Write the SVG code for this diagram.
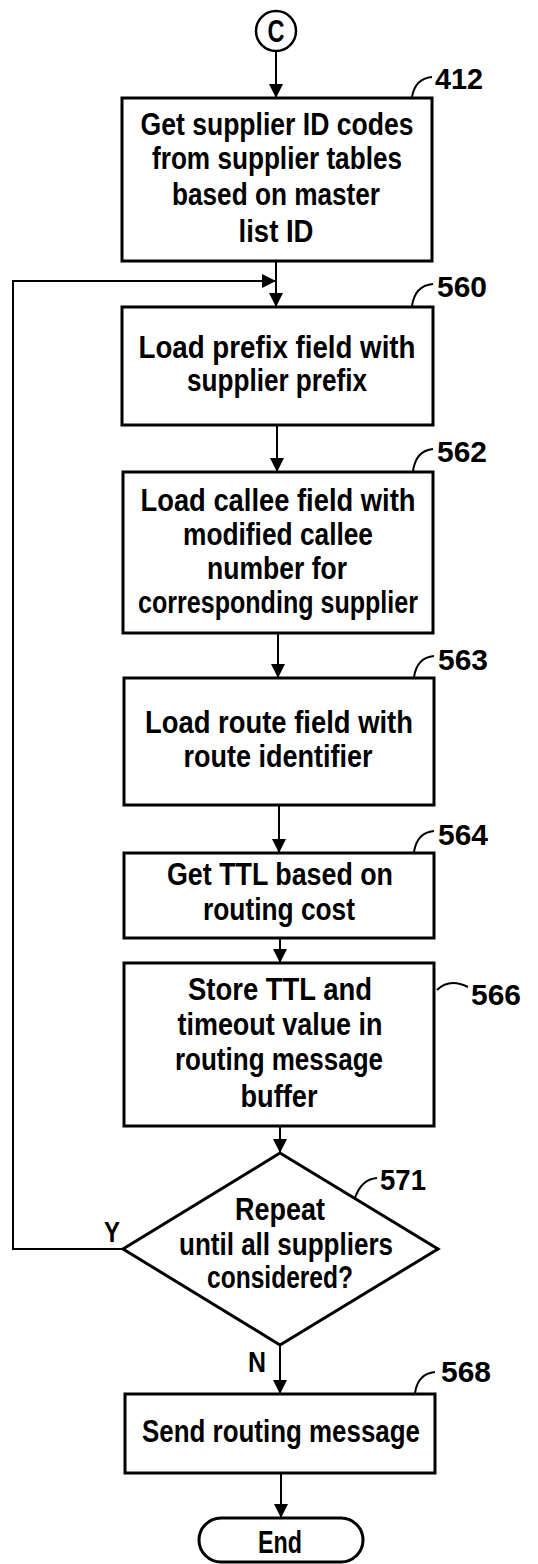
<svg xmlns="http://www.w3.org/2000/svg" width="538" height="1564" viewBox="0 0 538 1564">
<style>
.box{fill:#fff;stroke:#000;stroke-width:3}
.con{fill:none;stroke:#000;stroke-width:2}
.lead{fill:none;stroke:#000;stroke-width:2}
.t{font-family:"Liberation Sans",Arial,sans-serif;font-weight:bold;font-size:31px;text-anchor:middle;fill:#000}
.lbl{font-family:"Liberation Sans",Arial,sans-serif;font-weight:bold;font-size:29px;fill:#000}
</style>
<defs>
<marker id="ah" markerUnits="userSpaceOnUse" markerWidth="14" markerHeight="14" viewBox="0 0 14 14" refX="14" refY="7" orient="auto">
<path d="M0,0 L14,7 L0,14 z" fill="#000"/>
</marker>
</defs>
<rect width="538" height="1564" fill="#fff"/>
<g id="connectors">
<line class="con" x1="276" y1="51" x2="276" y2="98" marker-end="url(#ah)"/>
<line class="con" x1="276" y1="261" x2="276" y2="307" marker-end="url(#ah)"/>
<polyline class="con" points="123,1249 13,1249 13,281 276,281" marker-end="url(#ah)"/>
<line class="con" x1="277" y1="425" x2="277" y2="472" marker-end="url(#ah)"/>
<line class="con" x1="278" y1="633" x2="278" y2="678" marker-end="url(#ah)"/>
<line class="con" x1="279" y1="805" x2="279" y2="853" marker-end="url(#ah)"/>
<line class="con" x1="280" y1="938" x2="280" y2="963" marker-end="url(#ah)"/>
<line class="con" x1="280" y1="1126" x2="280" y2="1153" marker-end="url(#ah)"/>
<line class="con" x1="280" y1="1345" x2="280" y2="1394" marker-end="url(#ah)"/>
<line class="con" x1="281" y1="1473" x2="281" y2="1518" marker-end="url(#ah)"/>
<text class="lbl" x="112" y="1242" text-anchor="middle" textLength="16" lengthAdjust="spacingAndGlyphs">Y</text>
<text class="lbl" x="257" y="1372" text-anchor="middle" textLength="18" lengthAdjust="spacingAndGlyphs">N</text>
</g>
<g id="startC">
<circle cx="276" cy="31" r="20" fill="#fff" stroke="#000" stroke-width="2.5"/>
<text class="t" x="276" y="42" font-size="30" textLength="17" lengthAdjust="spacingAndGlyphs">C</text>
</g>
<g id="n412">
<rect class="box" x="122" y="98" width="310" height="163"/>
<text class="t" x="277" y="135" textLength="273" lengthAdjust="spacingAndGlyphs">Get supplier ID codes</text>
<text class="t" x="277" y="169" textLength="250" lengthAdjust="spacingAndGlyphs">from supplier tables</text>
<text class="t" x="276" y="205" textLength="208" lengthAdjust="spacingAndGlyphs">based on master</text>
<text class="t" x="276" y="242" textLength="75" lengthAdjust="spacingAndGlyphs">list ID</text>
<path class="lead" d="M412,97 C414,85 421,78 432,77"/>
<text class="lbl" x="435" y="89" textLength="48" lengthAdjust="spacingAndGlyphs">412</text>
</g>
<g id="n560">
<rect class="box" x="122" y="307" width="311" height="118"/>
<text class="t" x="277" y="358" textLength="277" lengthAdjust="spacingAndGlyphs">Load prefix field with</text>
<text class="t" x="277" y="391" textLength="180" lengthAdjust="spacingAndGlyphs">supplier prefix</text>
<path class="lead" d="M412,306 C414,292 421,285 433,284"/>
<text class="lbl" x="437" y="297" textLength="50" lengthAdjust="spacingAndGlyphs">560</text>
</g>
<g id="n562">
<rect class="box" x="123" y="472" width="310" height="161"/>
<text class="t" x="278" y="511" textLength="275" lengthAdjust="spacingAndGlyphs">Load callee field with</text>
<text class="t" x="278" y="545" textLength="190" lengthAdjust="spacingAndGlyphs">modified callee</text>
<text class="t" x="277" y="579" textLength="140" lengthAdjust="spacingAndGlyphs">number for</text>
<text class="t" x="278" y="613" textLength="280" lengthAdjust="spacingAndGlyphs">corresponding supplier</text>
<path class="lead" d="M413,471 C415,457 422,450 433,449"/>
<text class="lbl" x="437" y="462" textLength="50" lengthAdjust="spacingAndGlyphs">562</text>
</g>
<g id="n563">
<rect class="box" x="124" y="678" width="310" height="127"/>
<text class="t" x="279" y="733" textLength="268" lengthAdjust="spacingAndGlyphs">Load route field with</text>
<text class="t" x="278" y="767" textLength="189" lengthAdjust="spacingAndGlyphs">route identifier</text>
<path class="lead" d="M414,677 C416,664 423,657 434,656"/>
<text class="lbl" x="438" y="670" textLength="50" lengthAdjust="spacingAndGlyphs">563</text>
</g>
<g id="n564">
<rect class="box" x="124" y="853" width="310" height="85"/>
<text class="t" x="280" y="885" textLength="226" lengthAdjust="spacingAndGlyphs">Get TTL based on</text>
<text class="t" x="279" y="920" textLength="152" lengthAdjust="spacingAndGlyphs">routing cost</text>
<path class="lead" d="M414,852 C416,839 423,832 434,831"/>
<text class="lbl" x="438" y="845" textLength="50" lengthAdjust="spacingAndGlyphs">564</text>
</g>
<g id="n566">
<rect class="box" x="124" y="963" width="310" height="163"/>
<text class="t" x="280" y="1000" textLength="184" lengthAdjust="spacingAndGlyphs">Store TTL and</text>
<text class="t" x="280" y="1035" textLength="205" lengthAdjust="spacingAndGlyphs">timeout value in</text>
<text class="t" x="279" y="1070" textLength="208" lengthAdjust="spacingAndGlyphs">routing message</text>
<text class="t" x="279" y="1107" textLength="77" lengthAdjust="spacingAndGlyphs">buffer</text>
<path class="lead" d="M437,990 C445,982 456,981 468,987"/>
<text class="lbl" x="471" y="1005" textLength="50" lengthAdjust="spacingAndGlyphs">566</text>
</g>
<g id="n571">
<polygon points="280,1153 438,1249 280,1345 123,1249" fill="#fff" stroke="#000" stroke-width="3"/>
<text class="t" x="280" y="1220" textLength="90" lengthAdjust="spacingAndGlyphs">Repeat</text>
<text class="t" x="286" y="1255" textLength="214" lengthAdjust="spacingAndGlyphs">until all suppliers</text>
<text class="t" x="280" y="1288" textLength="146" lengthAdjust="spacingAndGlyphs">considered?</text>
<path class="lead" d="M355,1198 C359,1186 366,1179 377,1178"/>
<text class="lbl" x="380" y="1190" textLength="46" lengthAdjust="spacingAndGlyphs">571</text>
</g>
<g id="n568">
<rect class="box" x="125" y="1394" width="310" height="79"/>
<text class="t" x="281" y="1442" textLength="278" lengthAdjust="spacingAndGlyphs">Send routing message</text>
<path class="lead" d="M415,1393 C417,1380 424,1373 435,1372"/>
<text class="lbl" x="441" y="1382" textLength="50" lengthAdjust="spacingAndGlyphs">568</text>
</g>
<g id="end">
<rect class="box" x="199" y="1518" width="164" height="44" rx="22" ry="22"/>
<text class="t" x="280" y="1553" textLength="44" lengthAdjust="spacingAndGlyphs">End</text>
</g>
</svg>
